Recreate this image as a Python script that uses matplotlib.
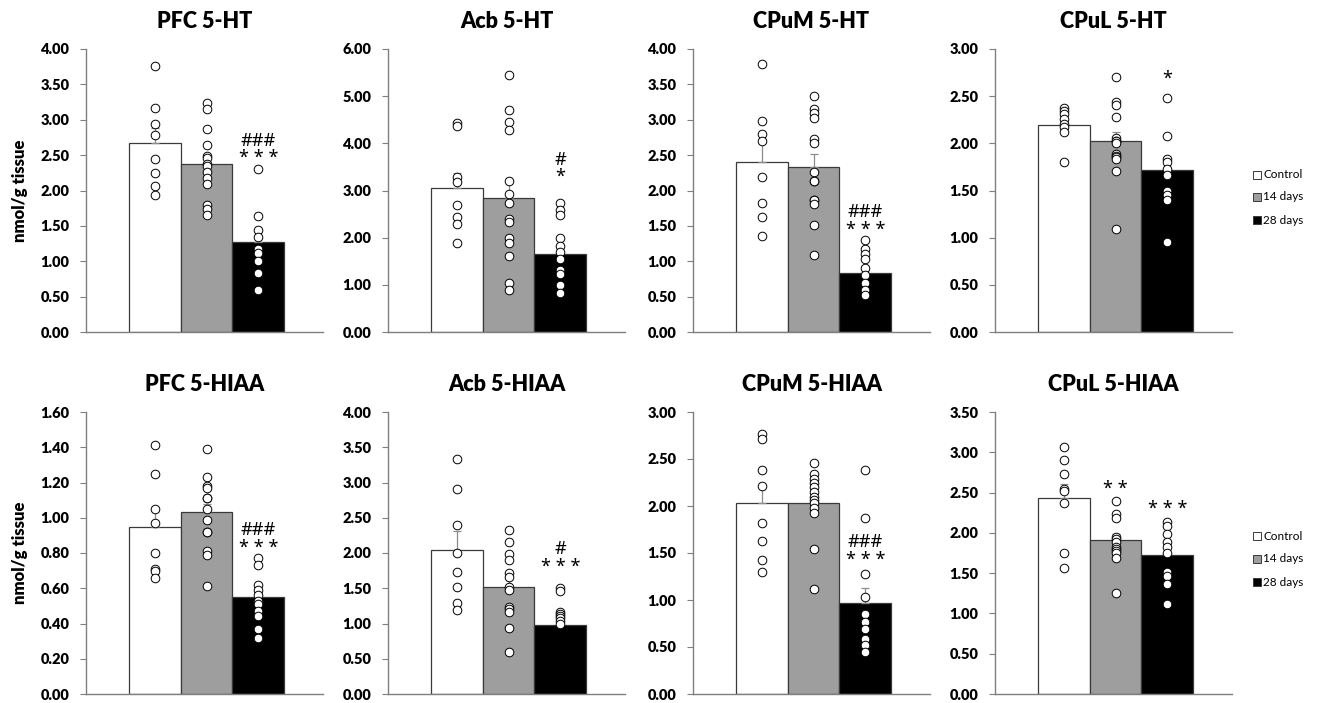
import matplotlib.pyplot as plt
import numpy as np

plt.rcParams['font.family'] = ['Lato', 'DejaVu Sans']

groups = ["Control", "14 days", "28 days"]
titles = ["PFC 5-HT", "Acb 5-HT", "CPuM 5-HT", "CPuL 5-HT",
          "PFC 5-HIAA", "Acb 5-HIAA", "CPuM 5-HIAA", "CPuL 5-HIAA"]
ymax = [4.0, 6.0, 4.0, 3.0, 1.6, 4.0, 3.0, 3.5]
ystep = [0.5, 1.0, 0.5, 0.5, 0.2, 0.5, 0.5, 0.5]

means = [[2.67, 2.37, 1.27], [3.06, 2.85, 1.66], [2.40, 2.33, 0.84], [2.19, 2.02, 1.72],
         [0.95, 1.03, 0.55], [2.04, 1.52, 0.98], [2.03, 2.03, 0.97], [2.43, 1.91, 1.73]]
sems = [[0.22, 0.12, 0.15], [0.32, 0.35, 0.19], [0.28, 0.19, 0.07], [0.06, 0.10, 0.13],
        [0.09, 0.05, 0.04], [0.27, 0.13, 0.06], [0.17, 0.08, 0.16], [0.18, 0.08, 0.09]]

control_pts = [
    [3.76, 3.16, 2.94, 2.79, 2.44, 2.25, 2.07, 1.93],
    [4.44, 4.36, 3.28, 3.19, 2.69, 2.44, 2.29, 1.88],
    [3.79, 2.98, 2.80, 2.70, 2.19, 1.82, 1.62, 1.36],
    [2.37, 2.34, 2.31, 2.26, 2.21, 2.17, 2.12, 1.80],
    [1.41, 1.25, 1.05, 0.97, 0.80, 0.71, 0.70, 0.66],
    [3.34, 2.91, 2.40, 2.00, 1.73, 1.52, 1.29, 1.19],
    [2.77, 2.71, 2.38, 2.21, 1.82, 1.63, 1.43, 1.30],
    [3.07, 2.90, 2.73, 2.54, 2.52, 2.37, 1.75, 1.57],
]
d14_pts = [
    [3.23, 3.15, 2.87, 2.64, 2.49, 2.46, 2.37, 2.34, 2.26, 2.18, 2.09, 1.80, 1.74, 1.65],
    [5.44, 4.71, 4.46, 4.29, 3.20, 2.93, 2.73, 2.40, 2.34, 2.00, 1.88, 1.62, 1.04, 0.89],
    [3.33, 3.15, 3.09, 3.02, 2.73, 2.67, 2.26, 2.13, 2.13, 1.87, 1.86, 1.81, 1.51, 1.09],
    [2.70, 2.44, 2.41, 2.28, 2.06, 2.03, 2.02, 2.00, 1.89, 1.87, 1.86, 1.83, 1.71, 1.09],
    [1.39, 1.23, 1.18, 1.17, 1.11, 1.11, 1.05, 0.99, 0.92, 0.92, 0.81, 0.79, 0.61],
    [2.32, 2.15, 1.99, 1.90, 1.72, 1.66, 1.52, 1.47, 1.24, 1.21, 1.16, 0.93, 0.59],
    [2.46, 2.34, 2.29, 2.25, 2.20, 2.15, 2.10, 2.06, 2.03, 1.98, 1.93, 1.54, 1.12],
    [2.40, 2.23, 2.19, 1.95, 1.92, 1.89, 1.83, 1.80, 1.78, 1.75, 1.69, 1.25],
]
d28_pts = [
    [2.30, 1.64, 1.44, 1.34, 1.17, 1.11, 1.01, 0.84, 0.60],
    [2.74, 2.59, 2.47, 2.00, 1.83, 1.70, 1.54, 1.32, 1.24, 0.99, 0.83],
    [1.30, 1.18, 1.10, 1.03, 0.91, 0.80, 0.69, 0.60, 0.53],
    [2.48, 2.08, 1.83, 1.80, 1.73, 1.66, 1.50, 1.45, 1.40, 0.95],
    [0.77, 0.73, 0.62, 0.59, 0.56, 0.53, 0.51, 0.47, 0.44, 0.37, 0.32],
    [1.51, 1.46, 1.16, 1.13, 1.10, 1.08, 1.03, 1.00],
    [2.38, 1.87, 1.28, 1.03, 0.85, 0.77, 0.69, 0.58, 0.52, 0.45],
    [2.13, 2.08, 1.98, 1.89, 1.83, 1.75, 1.52, 1.46, 1.37, 1.12],
]

# significance marks: (panel, group, text, y value of the block centre)
marks = [
    (0, 2, "###\n* * *", 2.58),
    (1, 2, "#\n*", 3.47),
    (2, 2, "###\n* * *", 1.57),
    (3, 2, "*", 2.68),
    (4, 2, "###\n* * *", 0.88),
    (5, 2, "#\n* * *", 1.93),
    (6, 2, "###\n* * *", 1.52),
    (7, 1, "* *", 2.54),
    (7, 2, "* * *", 2.29),
]

bar_colors = ["white", "#9e9e9e", "black"]
W, H = 1317, 703
fig = plt.figure(figsize=(W / 100, H / 100), dpi=100)

lefts = [86, 388, 693, 995]
axes = []
for i in range(8):
    row, col = divmod(i, 4)
    top = 49 if row == 0 else 412
    bot = 332 if row == 0 else 694
    ax = fig.add_axes([lefts[col] / W, 1 - bot / H, 237 / W, (bot - top) / H])
    axes.append(ax)
    x = np.arange(3)
    ax.bar(x, means[i], width=1.0, color=bar_colors, edgecolor="#3a3a3a",
           linewidth=0.9, zorder=1)
    ax.errorbar(x, means[i], yerr=[[0, 0, 0], sems[i]], fmt="none", ecolor="#8c8c8c",
                elinewidth=0.9, capsize=3, capthick=0.9, zorder=2)
    for g, pts in enumerate([control_pts[i], d14_pts[i], d28_pts[i]]):
        ax.plot(np.full(len(pts), g), pts, "o", ms=6.2, mfc="white", mec="black",
                mew=0.7, zorder=3, clip_on=False)
    ax.set_xlim(-1.33, 3.25)
    ax.set_ylim(0, ymax[i])
    ax.set_yticks(np.arange(0, ymax[i] + 1e-9, ystep[i]))
    ax.yaxis.set_major_formatter(plt.FormatStrFormatter("%.2f"))
    ax.set_xticks([])
    for s in ["top", "right"]:
        ax.spines[s].set_visible(False)
    for s in ["left", "bottom"]:
        ax.spines[s].set_color("#7f7f7f")
        ax.spines[s].set_linewidth(1.0)
    ax.tick_params(axis="y", length=4, color="#7f7f7f", labelsize=10.5, pad=8)
    for lab in ax.get_yticklabels():
        lab.set_fontweight("heavy")
    ax.set_title(titles[i], fontsize=15.5, fontweight="heavy", pad=15)
    if col == 0:
        ax.set_ylabel("nmol/g tissue", fontsize=12, fontweight="heavy", labelpad=9)

for p, g, txt, yv in marks:
    axes[p].text(g, yv, txt, ha="center", va="center", fontsize=13,
                 family=["Noto Sans"], linespacing=0.95, zorder=4)

# legends
for row, ys in enumerate([[175, 197, 220], [536, 559, 582]]):
    for k in range(3):
        y = 1 - ys[k] / H
        fig.patches.append(plt.Rectangle((1253 / W, y - 4 / H), 8 / W, 8 / H,
                                         transform=fig.transFigure, facecolor=bar_colors[k],
                                         edgecolor="#3a3a3a", linewidth=0.7))
        fig.text(1263 / W, y, groups[k], fontsize=8.5, va="center", ha="left")

fig.savefig("out.png", dpi=100)
